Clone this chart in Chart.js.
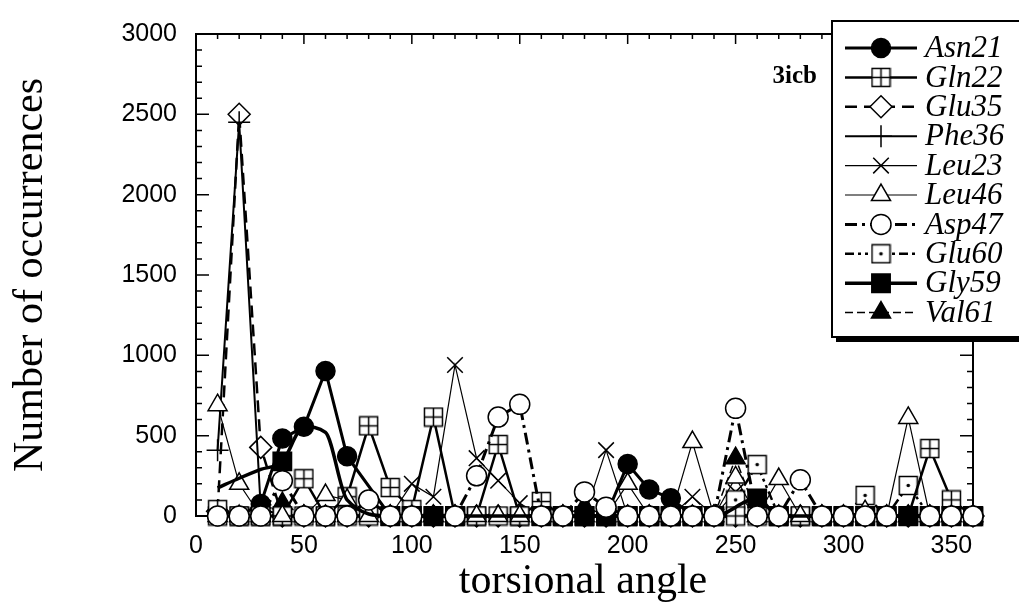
<!DOCTYPE html>
<html>
<head>
<meta charset="utf-8">
<title>3icb torsional angles</title>
<script src="https://cdn.jsdelivr.net/npm/chart.js@4.4.1/dist/chart.umd.min.js"></script>
<style>
  html, body { margin: 0; padding: 0; background: #fff; }
  canvas { display: block; }
</style>
</head>
<body>
<canvas id="torsionChart" width="1019" height="602"></canvas>
<script>
// Torsional angle bins (degrees)
const angles = [10, 20, 30, 40, 50, 60, 70, 80, 90, 100,
                110, 120, 130, 140, 150, 160, 170, 180, 190, 200,
                210, 220, 230, 240, 250, 260, 270, 280, 290, 300,
                310, 320, 330, 340, 350, 360];

const xTicks = [0, 50, 100, 150, 200, 250, 300, 350];
const yTicks = [0, 500, 1000, 1500, 2000, 2500, 3000];

// Number of occurrences per residue (null = no marker seen)
const asn21 = [0, 0, 75, 482, 555, 903, 372, null, 0, 0,
               0, 0, null, null, null, 0, 0, 0, 0, 323,
               165, 110, 0, 0, null, 0, 0, null, 0, 0,
               0, 0, 0, 0, 0, 0];
const gln22 = [40, 0, 0, 0, 232, 0, 120, 561, 177, 40,
               616, 0, 0, 445, 0, 90, 0, 0, 0, 0,
               0, 0, 0, 0, 0, 0, 0, 0, 0, 0,
               0, 0, 0, 420, 100, 0];
const glu35 = [30, 2500, 427, 0, 0, 0, 0, 0, 0, 0,
               0, 0, 0, 0, 0, 0, 0, 0, 0, 0,
               0, 0, 0, 0, 0, 0, 0, 0, 0, 0,
               0, 0, 0, 0, 0, 0];
const phe36 = [410, 2450, 50, 0, 0, 0, 0, 0, 0, 0,
               0, 0, 0, 0, 0, 0, 0, 0, 0, 0,
               0, 0, 0, 0, 0, 0, 0, 0, 0, 0,
               0, 0, 0, 0, 0, 0];
const leu23 = [0, 0, 0, 0, 0, 0, 0, 0, 0, 200,
               120, 940, 360, 220, 80, 0, 0, 0, 410, 0,
               0, 0, 120, 0, 150, 0, 0, 0, 0, 0,
               0, 0, 0, 0, 0, 0];
const leu46 = [690, 200, 0, 0, 0, 130, 100, 0, 0, 0,
               0, 0, 0, 0, 0, 0, 0, 0, 0, 200,
               0, 0, 460, 0, 240, 0, 230, 0, 0, 0,
               30, 0, 610, 0, 0, 0];
const asp47 = [0, 0, 0, 220, 0, 0, 0, 100, 0, 0,
               null, 0, 250, 616, 695, 0, 0, 150, 55, 0,
               0, 0, 0, 0, 670, 0, 0, 225, 0, 0,
               0, 0, null, 0, 0, 0];
const glu60 = [0, 0, 0, 0, 0, 0, 0, 0, 0, 0,
               0, 0, 0, 0, 0, 0, 0, 0, 0, 0,
               0, 0, 0, 0, 100, 320, 0, 0, 0, 0,
               128, 0, 190, 0, 0, 0];
const gly59 = [175, 235, 290, 340, 555, 520, 100, null, 0, 0,
               0, 0, null, null, null, 0, 0, 0, 0, 0,
               0, 0, 0, 0, null, 110, 0, null, 0, 0,
               0, 0, 0, 0, 0, 0];
const val61 = [0, 0, 60, 80, 0, 0, 0, null, 0, 0,
               0, 0, null, null, null, 0, 0, 60, 0, 0,
               0, 0, 0, 0, 360, 0, 0, null, 0, 0,
               0, 0, 0, 0, 0, 0];

// open square markers (with cross / with dot)
function squareMarker(kind) {
    const c = document.createElement("canvas");
    c.width = 21;
    c.height = 21;
    const g = c.getContext("2d");
    g.fillStyle = "#fff";
    g.fillRect(1, 1, 19, 19);
    g.strokeStyle = "#000";
    g.lineWidth = 1.5;
    g.strokeRect(1.5, 1.5, 18, 18);
    if (kind === "cross") {
        g.beginPath();
        g.moveTo(10.5, 1.5); g.lineTo(10.5, 19.5);
        g.moveTo(1.5, 10.5); g.lineTo(19.5, 10.5);
        g.stroke();
    } else {
        g.fillStyle = "#000";
        g.beginPath();
        g.arc(10.5, 10.5, 1.8, 0, Math.PI * 2);
        g.fill();
    }
    return c;
}

const toPoints = arr => angles.map((a, i) => ({ x: a, y: arr[i] }));

function series(label, values, opts) {
    return Object.assign({
        label: label,
        data: toPoints(values),
        borderColor: "#000",
        pointBorderColor: "#000",
        pointBackgroundColor: "#fff",
        pointBorderWidth: 1.5,
        borderDash: [],
        spanGaps: true,
        tension: 0,
        clip: false
    }, opts);
}

const datasets = [
    series("Asn21", asn21, { borderWidth: 3, pointStyle: "circle", pointRadius: 9.5, pointBackgroundColor: "#000", order: 7 }),
    series("Gln22", gln22, { borderWidth: 2.5, pointStyle: squareMarker("cross"), pointRadius: 10, order: 3 }),
    series("Glu35", glu35, { borderWidth: 2.5, borderDash: [12, 7], pointStyle: "rectRot", pointRadius: 11, order: 9 }),
    series("Phe36", phe36, { borderWidth: 2, pointStyle: "cross", pointRadius: 11, order: 8 }),
    series("Leu23", leu23, { borderWidth: 1.2, pointStyle: "crossRot", pointRadius: 11, order: 5 }),
    series("Leu46", leu46, { borderWidth: 1.2, pointStyle: "triangle", pointRadius: 11, order: 2 }),
    series("Asp47", asp47, { borderWidth: 3, borderDash: [12, 5, 3, 5], pointStyle: "circle", pointRadius: 10, order: 0 }),
    series("Glu60", glu60, { borderWidth: 2.5, borderDash: [9, 4, 3, 4, 3, 4], pointStyle: squareMarker("dot"), pointRadius: 10, order: 4 }),
    // the early Gly59 run is drawn as a smooth trace, only the 40 deg marker shows
    series("Gly59", gly59, {
        borderWidth: 3.5, pointStyle: "rect", pointBackgroundColor: "#000", order: 1,
        cubicInterpolationMode: "monotone",
        pointRadius: c => (c.raw && c.raw.x <= 70 && c.raw.x !== 40) ? 0 : 13
    }),
    series("Val61", val61, { borderWidth: 1.5, borderDash: [8, 4], pointStyle: "triangle", pointRadius: 11, pointBackgroundColor: "#000", order: 6 })
];

// frame, inward ticks, titles and the boxed legend
const figureDecor = {
    id: "figureDecor",
    beforeDraw(chart) {
        const ctx = chart.ctx;
        ctx.save();
        ctx.fillStyle = "#fff";
        ctx.fillRect(0, 0, chart.width, chart.height);
        ctx.restore();
    },
    beforeDatasetsDraw(chart) {
        const ctx = chart.ctx;
        const { left, right, top, bottom } = chart.chartArea;
        const xs = chart.scales.x, ys = chart.scales.y;
        ctx.save();
        ctx.strokeStyle = "#000";
        ctx.lineWidth = 2;
        ctx.strokeRect(left, top, right - left, bottom - top);
        ctx.lineWidth = 1.5;
        ctx.beginPath();
        for (let v = 0; v <= 3000; v += 100) {
            const py = ys.getPixelForValue(v);
            const len = v % 500 === 0 ? 13 : 6;
            ctx.moveTo(left, py); ctx.lineTo(left + len, py);
            ctx.moveTo(right, py); ctx.lineTo(right - len, py);
        }
        for (let v = 0; v <= 360; v += 10) {
            const px = xs.getPixelForValue(v);
            const len = v % 50 === 0 ? 10 : 5;
            ctx.moveTo(px, top); ctx.lineTo(px, top + len);
            ctx.moveTo(px, bottom); ctx.lineTo(px, bottom - len);
        }
        ctx.stroke();
        ctx.restore();
    },
    afterDraw(chart) {
        const ctx = chart.ctx;
        ctx.save();
        ctx.fillStyle = "#000";

        // axis titles
        ctx.font = '42px "Liberation Serif"';
        ctx.textAlign = "center";
        ctx.textBaseline = "alphabetic";
        ctx.fillText("torsional angle", 583, 593);
        ctx.save();
        ctx.translate(42, 275);
        ctx.rotate(-Math.PI / 2);
        ctx.fillText("Number of occurrences", 0, 0);
        ctx.restore();

        ctx.font = 'bold 25px "Liberation Serif"';
        ctx.textAlign = "right";
        ctx.fillText("3icb", 817, 83);

        // legend box with heavy shadow
        ctx.fillStyle = "#fff";
        ctx.fillRect(832, 21, 200, 316);
        ctx.strokeStyle = "#000";
        ctx.lineWidth = 2;
        ctx.strokeRect(832, 21, 200, 316);
        ctx.fillStyle = "#000";
        ctx.fillRect(836, 337, 200, 5);

        chart.data.datasets.forEach((ds, i) => {
            const yRow = 48 + i * 29.4;
            ctx.strokeStyle = "#000";
            ctx.lineWidth = ds.borderWidth;
            ctx.setLineDash(ds.borderDash || []);
            ctx.beginPath();
            ctx.moveTo(845, yRow);
            ctx.lineTo(917, yRow);
            ctx.stroke();
            ctx.setLineDash([]);
            ctx.lineWidth = ds.pointBorderWidth;
            ctx.fillStyle = ds.pointBackgroundColor;
            const r = typeof ds.pointRadius === "function" ? 13 : ds.pointRadius;
            if (Chart.helpers && Chart.helpers.drawPoint) {
                Chart.helpers.drawPoint(ctx, {
                    pointStyle: ds.pointStyle,
                    radius: r,
                    rotation: 0,
                    borderWidth: ds.pointBorderWidth
                }, 881, yRow);
            }
            ctx.fillStyle = "#000";
            ctx.font = 'italic 31px "Liberation Serif"';
            ctx.textAlign = "left";
            ctx.textBaseline = "middle";
            ctx.fillText(ds.label, 925, yRow + 1);
        });
        ctx.restore();
    }
};

const tickFont = { family: "Liberation Sans", size: 25 };

new Chart(document.getElementById("torsionChart"), {
    type: "line",
    data: { datasets: datasets },
    options: {
        responsive: false,
        animation: false,
        devicePixelRatio: 1,
        layout: { padding: { top: 25, right: 46, left: 0, bottom: 0 } },
        plugins: {
            legend: { display: false },
            tooltip: { enabled: false }
        },
        scales: {
            x: {
                type: "linear",
                min: 0,
                max: 360,
                grid: { display: false, drawTicks: false },
                border: { display: false },
                ticks: { color: "#000", font: tickFont, padding: 15, maxRotation: 0, callback: v => String(v) },
                afterBuildTicks: s => { s.ticks = xTicks.map(v => ({ value: v })); },
                afterFit: s => { s.height = 86; }
            },
            y: {
                min: 0,
                max: 3000,
                grid: { display: false, drawTicks: false },
                border: { display: false },
                ticks: { color: "#000", font: tickFont, padding: 19, callback: v => String(v) },
                afterBuildTicks: s => { s.ticks = yTicks.map(v => ({ value: v })); },
                afterFit: s => { s.width = 196; }
            }
        }
    },
    plugins: [figureDecor]
});
</script>
</body>
</html>
